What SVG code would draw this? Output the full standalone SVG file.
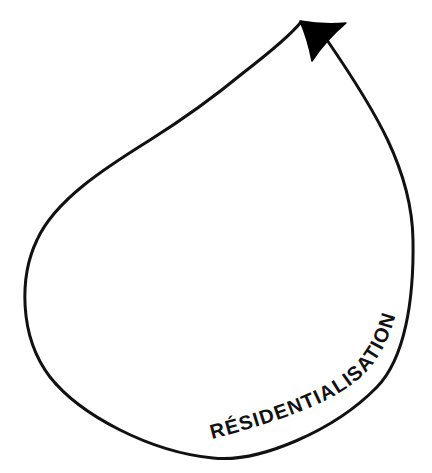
<svg xmlns="http://www.w3.org/2000/svg" width="432" height="473" viewBox="0 0 432 473">
  <style>
    .loop { fill: none; stroke: #111; stroke-width: 3; stroke-linecap: round; stroke-linejoin: round; }
    .head { fill: #000; stroke: #000; stroke-width: 1.5; stroke-linejoin: round; }
    .label { font-family: "Liberation Sans", Arial, sans-serif; font-weight: bold; font-size: 20px; fill: #111; }
  </style>
  <defs>
    <path id="labelPath" d="M 212,439 C 270,424 330,405 360,378 C 380,360 392,335 399,300"/>
  </defs>
  <rect width="432" height="473" fill="#fff"/>
  <g id="connectors">
    <path class="loop" d="M 301,22 C 290,36 265,56 243,73 C 220,92 185,118 150,140 C 105,168 55,200 37,240 C 20,275 18,335 50,377 C 80,415 150,452 213,458 C 260,463 335,430 377,387 C 405,358 414,300 413,240 C 412,170 375,110 327,40"/>
    <path class="head" d="M 300,21 Q 323,25 346,23 Q 326,40 312,61 Q 308,40 300,21 Z"/>
  </g>
  <g id="label-residentialisation">
    <text class="label"><textPath href="#labelPath" textLength="234" lengthAdjust="spacing">RÉSIDENTIALISATION</textPath></text>
  </g>
</svg>
